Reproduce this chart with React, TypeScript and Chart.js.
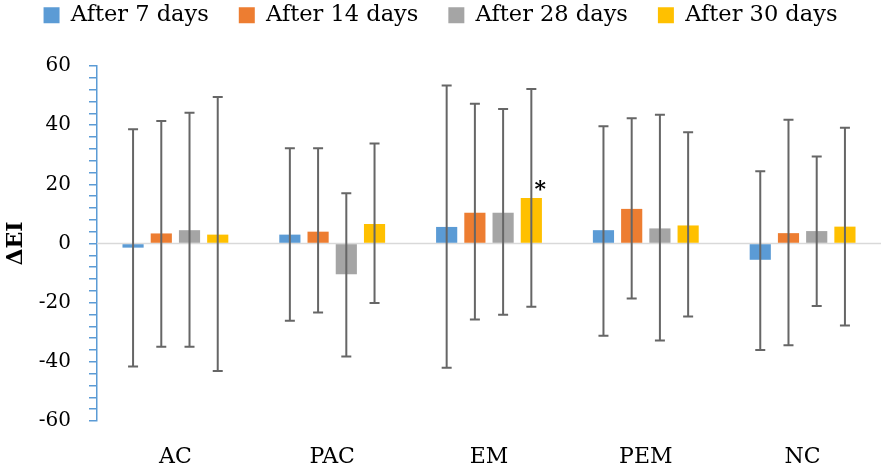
import { useEffect, useRef } from "react";
import { Chart, registerables } from "chart.js";

Chart.register(...registerables);

const categories = ["AC", "PAC", "EM", "PEM", "NC"];
const seriesNames = ["After 7 days", "After 14 days", "After 28 days", "After 30 days"];
const seriesColors = ["#5B9BD5", "#ED7D31", "#A5A5A5", "#FFC000"];

// mean change per group
const day7 = [-1.4, 3.0, 5.6, 4.5, -5.5];
const day14 = [3.4, 4.0, 10.4, 11.7, 3.5];
const day28 = [4.5, -10.4, 10.4, 5.1, 4.2];
const day30 = [3.0, 6.6, 15.4, 6.1, 5.7];

// error bar ends (upper / lower)
const day7Hi = [38.6, 32.2, 53.4, 39.6, 24.4];
const day7Lo = [-41.6, -26.1, -42.0, -31.2, -36.0];
const day14Hi = [41.4, 32.2, 47.2, 42.3, 41.8];
const day14Lo = [-34.9, -23.3, -25.7, -18.6, -34.4];
const day28Hi = [44.2, 17.0, 45.5, 43.5, 29.4];
const day28Lo = [-34.9, -38.2, -24.1, -32.8, -21.1];
const day30Hi = [49.5, 33.8, 52.2, 37.6, 39.1];
const day30Lo = [-43.1, -20.1, -21.4, -24.7, -27.7];

const seriesValues = [day7, day14, day28, day30];
const upper = [day7Hi, day14Hi, day28Hi, day30Hi];
const lower = [day7Lo, day14Lo, day28Lo, day30Lo];

// significance marker: series index, category index, value where it sits
const starSeries = 3;
const starCategory = 2;
const starValue = 19.5;

const serif = "'DejaVu Serif', 'Liberation Serif', serif";

// the legend sits high, with room left below it before the plot
const legendHeight = {
  id: "legendHeight",
  beforeLayout(chart: any) {
    const lg = chart.legend;
    if (lg && !lg.__fixed) {
      const fit = lg.fit.bind(lg);
      lg.fit = () => {
        fit();
        lg.height = 92;
      };
      lg.__fixed = true;
    }
  },
};

const errorBars = {
  id: "errorBars",
  beforeDatasetsDraw(chart: any) {
    const { ctx, chartArea, scales } = chart;
    const y0 = scales.y.getPixelForValue(0);
    ctx.save();
    ctx.strokeStyle = "#D9D9D9";
    ctx.lineWidth = 1.5;
    ctx.beginPath();
    ctx.moveTo(chartArea.left, y0);
    ctx.lineTo(chartArea.right, y0);
    ctx.stroke();
    ctx.restore();
  },
  afterDatasetsDraw(chart: any) {
    const { ctx, scales } = chart;
    ctx.save();
    ctx.strokeStyle = "#666666";
    ctx.lineWidth = 2;
    upper.forEach((hi, s) => {
      const meta = chart.getDatasetMeta(s);
      meta.data.forEach((bar: any, i: number) => {
        const yt = scales.y.getPixelForValue(hi[i]);
        const yb = scales.y.getPixelForValue(lower[s][i]);
        const x = bar.x;
        ctx.beginPath();
        ctx.moveTo(x, yt);
        ctx.lineTo(x, yb);
        ctx.moveTo(x - 5, yt);
        ctx.lineTo(x + 5, yt);
        ctx.moveTo(x - 5, yb);
        ctx.lineTo(x + 5, yb);
        ctx.stroke();
      });
    });
    const star = chart.getDatasetMeta(starSeries).data[starCategory];
    ctx.fillStyle = "#000";
    ctx.font = `bold 22px ${serif}`;
    ctx.textAlign = "center";
    ctx.textBaseline = "alphabetic";
    ctx.fillText("*", star.x + 9, scales.y.getPixelForValue(starValue) + 10);
    ctx.restore();
  },
};

export default function App() {
  const canvasRef = useRef<HTMLCanvasElement>(null);
  const chartRef = useRef<Chart | null>(null);

  useEffect(() => {
    document.body.style.margin = "0";
    const canvas = canvasRef.current;
    if (!canvas) return;

    if (chartRef.current) {
      chartRef.current.destroy();
    }

    chartRef.current = new Chart(canvas, {
      type: "bar",
      data: {
        labels: categories,
        datasets: seriesNames.map((name, s) => ({
          label: name,
          data: seriesValues[s],
          backgroundColor: seriesColors[s],
          borderWidth: 0,
          categoryPercentage: 0.72,
          barPercentage: 0.75,
        })),
      },
      options: {
        animation: false,
        responsive: true,
        maintainAspectRatio: false,
        layout: { padding: { top: -26, right: 3, left: 0, bottom: 0 } },
        plugins: {
          legend: {
            position: "top",
            labels: {
              boxWidth: 16,
              boxHeight: 16,
              padding: 30,
              color: "#000",
              font: { family: serif, size: 22.5 },
            },
          },
          tooltip: { enabled: false },
        },
        scales: {
          x: {
            grid: { display: false, drawTicks: false },
            border: { display: false },
            ticks: {
              color: "#000",
              font: { family: serif, size: 22 },
              padding: 23,
            },
            afterFit(scale: any) {
              scale.height = 54;
            },
          },
          y: {
            min: -60,
            max: 60,
            grid: {
              drawOnChartArea: false,
              drawTicks: true,
              tickLength: 8,
              color: "#5B9BD5",
              lineWidth: 1.5,
            },
            border: { color: "#5B9BD5", width: 1.5 },
            ticks: {
              stepSize: 4,
              autoSkip: false,
              color: "#000",
              padding: 18,
              font: { family: serif, size: 20 },
              callback(val) {
                return Number(val) % 20 === 0 ? String(val) : "";
              },
            },
            title: {
              display: true,
              text: "ΔEI",
              color: "#000",
              padding: 3,
              font: { family: serif, size: 22, weight: "bold" },
            },
            afterFit(scale: any) {
              scale.width = 97;
            },
          },
        },
      },
      plugins: [legendHeight, errorBars],
    });

    return () => {
      chartRef.current?.destroy();
    };
  }, []);

  return (
    <div style={{ width: 884, height: 475, position: "relative" }}>
      <canvas
        ref={canvasRef}
        role="img"
        aria-label="Grouped bar chart of change in EI per group after 7, 14, 28 and 30 days, with error bars"
      />
    </div>
  );
}
